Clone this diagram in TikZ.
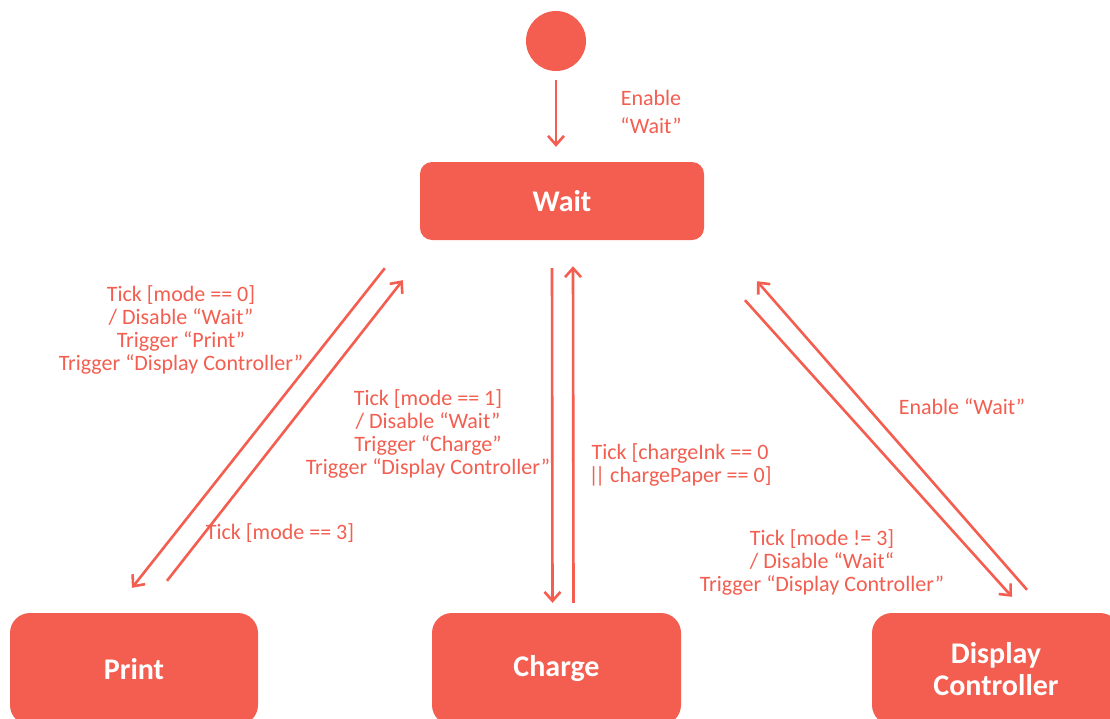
\documentclass[tikz,border=0pt]{standalone}
\usepackage{fontspec}
\setmainfont{Carlito}
\usetikzlibrary{arrows.meta,calc}
\definecolor{coral}{RGB}{243,94,80}
\tikzset{
  statebox/.style={fill=coral,draw=none,rounded corners=#1,text=white,font=\fontsize{30}{32}\selectfont\bfseries,align=center,inner sep=0pt},
  lbl/.style={text=coral,font=\fontsize{22}{23}\selectfont,align=center,inner sep=0pt},
  conn/.style={draw=coral,line width=2.6pt,-{Straight Barb[length=9pt,width=16pt,line width=2.6pt]}},
}
\begin{document}
\begin{tikzpicture}[x=1pt,y=-1pt]
\clip (0,0) rectangle (1110,718);
\fill[white] (0,0) rectangle (1110,718);
\node[circle,fill=coral,minimum size=60pt,inner sep=0pt] (init) at (556,41) {};
\node[statebox=12pt,minimum width=284pt,minimum height=78pt] (wait) at (562,201) {Wait};
\node[statebox=20pt,minimum width=248pt,minimum height=112pt] (print) at (134,669) {Print};
\node[statebox=20pt,minimum width=249pt,minimum height=112pt] (charge) at (556.5,669) {Charge};
\node[statebox=20pt,minimum width=248pt,minimum height=112pt] (disp) at (996,669) {Display\\Controller};
% initial
\draw[conn] ($(init.south)+(0,9)$) -- ($(wait.north)+(-6,-15)$);
\node[lbl,font=\fontsize{22}{28}\selectfont] (lenable) at (651,112) {Enable\\“Wait”};
% left pair
\draw[conn] ($(wait.south west)+(-35,28)$) -- ($(print.north)+(-2,-25)$);
\draw[conn] ($(print.north)+(33,-32)$) -- ($(wait.south west)+(-17,40)$);
% middle pair
\draw[conn] ($(wait.south)+(-10,28)$) -- ($(charge.north)+(-4,-10)$);
\draw[conn] ($(charge.north)+(17,-10)$) -- ($(wait.south)+(11,26)$);
% right pair
\draw[conn] ($(wait.south)+(183,60)$) -- ($(disp.north)+(16,-16)$);
\draw[conn] ($(disp.north)+(31,-23)$) -- ($(wait.south)+(195,41)$);
% labels
\node[lbl] (l1) at (181,330) {Tick [mode == 0]\\/ Disable “Wait”\\Trigger “Print”\\Trigger “Display Controller”};
\node[lbl] (l2) at (428,434) {Tick [mode == 1]\\/ Disable “Wait”\\Trigger “Charge”\\Trigger “Display Controller”};
\node[lbl] (l3) at (680,465) {Tick [chargeInk == 0\\|\kern-3.5pt| chargePaper == 0]};
\node[lbl] (l4) at (280,533) {Tick [mode == 3]};
\node[lbl] (l5) at (962,407) {Enable “Wait”};
\node[lbl] (l6) at (822,562) {Tick [mode != 3]\\/ Disable “Wait“\\Trigger “Display Controller”};
\end{tikzpicture}
\end{document}
